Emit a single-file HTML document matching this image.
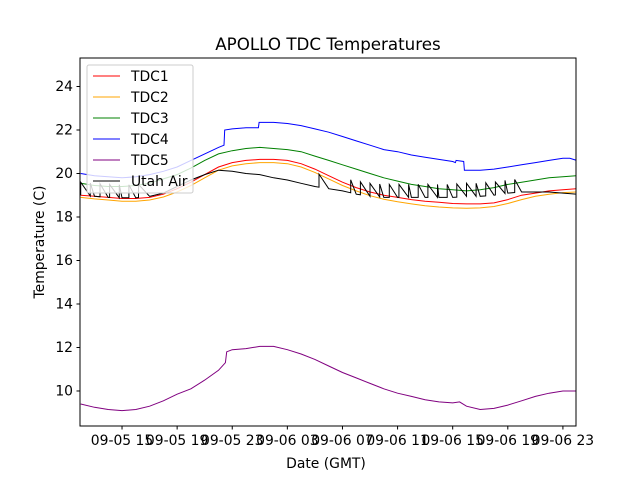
<!DOCTYPE html>
<html><head><meta charset="utf-8"><style>
body{margin:0;background:#fff}
svg{font-family:"DejaVu Sans","Liberation Sans",sans-serif}
</style></head><body>
<svg id="c" width="640" height="480"></svg>
<script>
const hours=[12,13,14,15,16,17,18,19,20,21,22,23,24,25,26,27,28,29,30,31,32,33,34,35,36,37,38,39,40,41,42,43,44,45,46,47,48];
const tdc1=[19.0,18.95,18.9,18.85,18.85,18.9,19.05,19.3,19.6,19.95,20.3,20.5,20.6,20.65,20.65,20.6,20.45,20.2,19.9,19.6,19.35,19.15,19.0,18.9,18.8,18.72,18.68,18.62,18.6,18.6,18.65,18.8,19.0,19.1,19.2,19.25,19.3];
const tdc2=[18.9,18.83,18.78,18.72,18.72,18.78,18.92,19.15,19.45,19.8,20.15,20.35,20.45,20.5,20.5,20.45,20.3,20.05,19.75,19.45,19.2,18.98,18.82,18.7,18.6,18.52,18.46,18.42,18.4,18.42,18.48,18.62,18.8,18.95,19.05,19.12,19.15];
const tdc3=[19.55,19.45,19.4,19.4,19.45,19.55,19.75,19.95,20.25,20.6,20.9,21.05,21.15,21.2,21.15,21.1,21.0,20.8,20.6,20.4,20.2,20.0,19.8,19.65,19.5,19.4,19.3,19.25,19.2,19.25,19.35,19.5,19.6,19.7,19.8,19.85,19.9];
const tdc4T=[12,13,14,15,16,17,18,19,20,21,22,22.4,22.45,23,24,24.9,24.95,26,27,28,29,30,31,32,33,34,35,36,37,38,39,39.2,39.25,39.8,39.85,41,42,43,44,45,46,47,47.5,48];
const tdc4=[20.0,19.9,19.85,19.8,19.85,19.95,20.1,20.3,20.6,20.9,21.2,21.3,22.0,22.05,22.1,22.1,22.35,22.35,22.3,22.2,22.05,21.9,21.7,21.5,21.3,21.1,21.0,20.85,20.75,20.65,20.55,20.5,20.6,20.55,20.15,20.15,20.2,20.3,20.4,20.5,20.6,20.7,20.7,20.6];
const tdc5T=[12,13,14,15,16,17,18,19,20,21,22,22.5,22.6,23,24,25,26,27,28,29,30,31,32,33,34,35,36,37,38,39,39.5,40,41,42,43,44,45,46,47,48];
const tdc5=[9.4,9.25,9.15,9.1,9.15,9.3,9.55,9.85,10.1,10.5,10.95,11.3,11.8,11.9,11.95,12.05,12.05,11.9,11.7,11.45,11.15,10.85,10.6,10.35,10.1,9.9,9.75,9.6,9.5,9.45,9.5,9.3,9.15,9.2,9.35,9.55,9.75,9.9,10.0,10.0];
const airT=[12,13,14,15,16,17,18,19,20,21,22,23,24,25,26,27,28,29,30,31,32,33,34,35,36,37,38,39,40,41,42,43,44,45,46,47,48];
const air=[19.0,18.95,18.9,18.88,18.88,18.95,19.1,19.4,19.7,19.95,20.15,20.1,20.0,19.95,19.8,19.7,19.55,19.4,19.3,19.2,19.05,18.95,18.9,18.9,18.9,18.9,18.9,18.9,18.95,18.95,19.0,19.1,19.15,19.15,19.15,19.1,19.05];
const airTeeth=[12.0,12.7,13.4,14.1,14.8,15.5,16.2,29.3,31.6,32.3,33.0,33.7,34.4,35.1,35.8,36.5,37.2,37.9,38.6,39.3,40.0,40.7,41.4,42.1,42.8,43.5];
const yTicks=[10,12,14,16,18,20,22,24];
const xTicks=[15,19,23,27,31,35,39,43,47];
const xLabels=["09-05 15","09-05 19","09-05 23","09-06 03","09-06 07","09-06 11","09-06 15","09-06 19","09-06 23"];
const L=80,R=576,T=58,B=426,X0=11.95,X1=47.95,Y0=8.39,Y1=25.31;
const sx=h=>L+(h-X0)/(X1-X0)*(R-L), sy=v=>B-(v-Y0)/(Y1-Y0)*(B-T);
const svg=document.getElementById('c'),NS='http://www.w3.org/2000/svg';
function mk(t,a,p){const e=document.createElementNS(NS,t);for(const k in a)e.setAttribute(k,a[k]);(p||svg).appendChild(e);return e;}
function interp(ts,vs,t){for(let i=1;i<ts.length;i++){if(t<=ts[i]){const f=(t-ts[i-1])/(ts[i]-ts[i-1]);return vs[i-1]+f*(vs[i]-vs[i-1]);}}return vs[vs.length-1];}
const clip=mk('clipPath',{id:'cp'});mk('rect',{x:L,y:T,width:R-L,height:B-T},clip);
const plot=mk('g',{'clip-path':'url(#cp)'});
function line(ts,vs,color,name){const d=ts.map((t,i)=>(i?'L':'M')+sx(t).toFixed(1)+','+sy(vs[i]).toFixed(1)).join('');
const p=mk('path',{d:d,fill:'none',stroke:color,'stroke-width':1},plot);

}
line(hours,tdc2,'#ffa500','series-tdc2');
line(hours,tdc1,'#ff0000','series-tdc1');
line(hours,tdc3,'#008000','series-tdc3');
line(tdc4T,tdc4,'#0000ff','series-tdc4');
line(tdc5T,tdc5,'#800080','series-tdc5');
(function(){let all=[];
for(let i=0;i<airT.length;i++)all.push([airT[i],air[i]]);
airTeeth.forEach(t=>{const base=interp(airT,air,t);all.push([t-0.001,base]);all.push([t,base+0.6]);});
all.sort((a,b)=>a[0]-b[0]);
const p=mk('path',{d:all.map((q,i)=>(i?'L':'M')+sx(q[0]).toFixed(1)+','+sy(q[1]).toFixed(1)).join(''),fill:'none',stroke:'#000','stroke-width':1},plot);

})();
mk('rect',{x:L,y:T,width:R-L,height:B-T,fill:'none',stroke:'#000','stroke-width':1});
yTicks.forEach(v=>{const y=sy(v);mk('line',{x1:L-3.5,x2:L,y1:y,y2:y,stroke:'#000'});
const t=mk('text',{x:L-7,y:y+4.5,'text-anchor':'end','font-size':13.9});t.textContent=v;

});
xTicks.forEach((h,i)=>{const x=sx(h);mk('line',{x1:x,x2:x,y1:B,y2:B+3.5,stroke:'#000'});
const t=mk('text',{x:x,y:B+19,'text-anchor':'middle','font-size':13.9});t.textContent=xLabels[i];

});
</script>
<svg width="640" height="480" style="position:absolute;left:0;top:0">
<text x="328" y="50" text-anchor="middle" font-size="16.7">APOLLO TDC Temperatures</text>
<text x="326" y="468" text-anchor="middle" font-size="13.9">Date (GMT)</text>
<text transform="translate(44,242) rotate(-90)" text-anchor="middle" font-size="13.9">Temperature (C)</text>
<g font-size="13.9">
<rect x="87" y="65" width="106" height="128" rx="2" fill="#fff" fill-opacity="0.8" stroke="#ccc"/>
<line x1="93" x2="120" y1="76" y2="76" stroke="#f00"/><text x="131" y="81">TDC1</text>
<line x1="93" x2="120" y1="97" y2="97" stroke="#ffa500"/><text x="131" y="102">TDC2</text>
<line x1="93" x2="120" y1="118" y2="118" stroke="#008000"/><text x="131" y="123">TDC3</text>
<line x1="93" x2="120" y1="139" y2="139" stroke="#00f"/><text x="131" y="144">TDC4</text>
<line x1="93" x2="120" y1="160" y2="160" stroke="#800080"/><text x="131" y="165">TDC5</text>
<line x1="93" x2="120" y1="181" y2="181" stroke="#000"/><text x="131" y="186">Utah Air</text>
</g>
</svg>
</body></html>
